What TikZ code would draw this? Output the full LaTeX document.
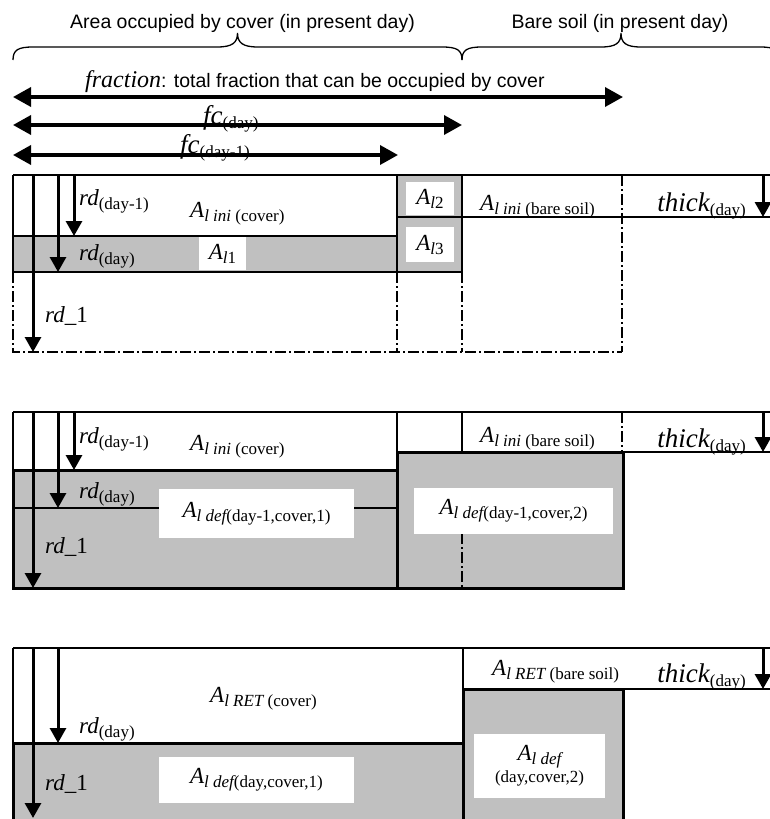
\documentclass[tikz,border=0pt]{standalone}
\usepackage{fontspec}
\setmainfont{Liberation Serif}
\newfontfamily\arl{Liberation Sans}
\usetikzlibrary{arrows.meta}
\definecolor{fillgray}{HTML}{C0C0C0}
\newcommand\Vv[1]{{\fontsize{23}{26}\selectfont\itshape #1}}
\newcommand\Vb[1]{{\fontsize{27}{30}\selectfont\itshape #1}}
\newcommand\Ss[1]{\raisebox{-4pt}{\fontsize{17}{19}\selectfont #1}}
\newcommand\Si[1]{\raisebox{-4pt}{\fontsize{17}{19}\selectfont\itshape #1}}
\begin{document}
\begin{tikzpicture}[x=1pt,y=-1pt,
  thinl/.style={line width=1.8pt},
  thickl/.style={line width=3pt},
  dashdot/.style={line width=2pt,dash pattern=on 11pt off 3pt on 2pt off 3pt},
  darr/.style={line width=3pt,-{Triangle[length=15pt,width=16pt]}},
  harr/.style={line width=3.5pt,{Triangle[length=18pt,width=19pt]}-{Triangle[length=18pt,width=19pt]}},
  lbl/.style={inner sep=0pt},
  wbox/.style={fill=white,inner sep=0pt,align=center},
  bracel/.style={line width=1.3pt},
  sanslbl/.style={inner sep=0pt,font=\arl\fontsize{19.5}{22}\selectfont}]
\clip (0,0) rectangle (770,819);
\fill[white] (0,0) rectangle (770,819);

% ---------- header ----------
\node[sanslbl,anchor=base] (hcov) at (242.5,28) {Area occupied by cover (in present day)};
\node[sanslbl,anchor=base] (hbare) at (620,28) {Bare soil (in present day)};
\draw[bracel] (13,60) .. controls (13,50) and (18,47) .. (33,47) -- (217,47)
  .. controls (232,47) and (237.5,43) .. (237.5,33)
  .. controls (237.5,43) and (243,47) .. (258,47) -- (442,47)
  .. controls (457,47) and (462,50) .. (462,60);
\draw[bracel] (462,60) .. controls (462,50) and (467,47) .. (482,47) -- (601,47)
  .. controls (616,47) and (621,43) .. (621,33)
  .. controls (621,43) and (626,47) .. (641,47) -- (760,47)
  .. controls (775,47) and (780,50) .. (780,60);

\coordinate (fa) at (13,97); \coordinate (fb) at (623,97);
\coordinate (ca) at (13,125); \coordinate (cb) at (462,125);
\coordinate (da) at (13,155); \coordinate (db) at (398,155);
\draw[harr] (fa) -- (fb);
\draw[harr] (ca) -- (cb);
\draw[harr] (da) -- (db);
\node[lbl,anchor=base west] (lfrac) at (85,87) {{\fontsize{24}{26}\selectfont\itshape fraction}{\arl\fontsize{19.5}{22}\selectfont: total fraction that can be occupied by cover}};
\node[lbl,anchor=base west] (lfc) at (203,124) {\Vb{fc}\Ss{(day)}};
\node[lbl,anchor=base west] (lfc1) at (180,153) {\Vb{fc}\Ss{(day-1)}};

% ---------- panel 1 ----------
\fill[fillgray] (13,236) rectangle (397,272);
\fill[fillgray] (397,175) rectangle (462,272);
\draw[thinl] (13,175) -- (770,175);
\draw[thinl] (13,175) -- (13,272);
\draw[thinl] (13,236) -- (397,236);
\draw[thinl] (13,272) -- (462,272);
\draw[thinl] (397,175) -- (397,272);
\draw[thinl] (462,175) -- (462,272);
\draw[thinl] (397,217) -- (770,217);
\draw[dashdot] (13,272) -- (13,352) -- (622,352);
\draw[dashdot] (622,175) -- (622,352);
\draw[dashdot] (397,272) -- (397,352);
\draw[dashdot] (462,272) -- (462,352);
\node[wbox,minimum width=47pt,minimum height=33pt] (al1) at (222.5,253.5) {\Vv{A}\Si{l}\Ss{1}};
\node[wbox,minimum width=48pt,minimum height=33pt] (al2) at (430,198.5) {\Vv{A}\Si{l}\Ss{2}};
\node[wbox,minimum width=48pt,minimum height=35pt] (al3) at (430,244.5) {\Vv{A}\Si{l}\Ss{3}};
\draw[darr] (33,175) -- (33,352);
\draw[darr] (58,175) -- (58,272);
\draw[darr] (74,175) -- (74,236);
\draw[darr] (763,175) -- (763,217);
\node[lbl,anchor=base west] (p1rd1) at (79,205) {\Vv{rd}\Ss{(day-1)}};
\node[lbl,anchor=base west] (p1rd) at (79,260) {\Vv{rd}\Ss{(day)}};
\node[lbl,anchor=base west] (p1r1) at (45,322) {\Vv{rd\_}{\fontsize{23}{26}\selectfont 1}};
\node[lbl,anchor=base west] (p1ac) at (190,217) {\Vv{A}\Si{l ini}\Ss{ (cover)}};
\node[lbl,anchor=base west] (p1ab) at (480,210) {\Vv{A}\Si{l ini}\Ss{ (bare soil)}};
\node[lbl,anchor=base east] (p1th) at (746,211) {\Vb{thick}\Ss{(day)}};

% ---------- panel 2 ----------
\fill[fillgray] (13,470) rectangle (397,588);
\fill[fillgray] (397,452) rectangle (623,588);
\draw[thinl] (13,412) -- (770,412);
\draw[thinl] (13,412) -- (13,470);
\draw[thinl] (462,412) -- (462,452);
\draw[line width=2.4pt] (397,412) -- (397,452);
\draw[thinl] (397,452) -- (770,452);
\draw[thinl] (13,508) -- (397,508);
\draw[dashdot] (622,412) -- (622,452);
\draw[dashdot] (462,533) -- (462,588);
\draw[thickl] (13,470) -- (397,470);
\draw[thickl] (13,470) -- (13,588) -- (623,588) -- (623,452) -- (397,452) -- (397,588);
\node[wbox,minimum width=195pt,minimum height=49pt] (p2d1) at (256.5,513.5) {\Vv{A}\Si{l def}\Ss{(day-1,cover,1)}};
\node[wbox,minimum width=199pt,minimum height=46pt] (p2d2) at (513.5,511) {\Vv{A}\Si{l def}\Ss{(day-1,cover,2)}};
\draw[darr] (33,412) -- (33,588);
\draw[darr] (58,412) -- (58,508);
\draw[darr] (74,412) -- (74,470);
\draw[darr] (763,412) -- (763,452);
\node[lbl,anchor=base west] (p2rd1) at (79,443) {\Vv{rd}\Ss{(day-1)}};
\node[lbl,anchor=base west] (p2rd) at (79,498) {\Vv{rd}\Ss{(day)}};
\node[lbl,anchor=base west] (p2r1) at (45,553) {\Vv{rd\_}{\fontsize{23}{26}\selectfont 1}};
\node[lbl,anchor=base west] (p2ac) at (190,450) {\Vv{A}\Si{l ini}\Ss{ (cover)}};
\node[lbl,anchor=base west] (p2ab) at (480,442) {\Vv{A}\Si{l ini}\Ss{ (bare soil)}};
\node[lbl,anchor=base east] (p2th) at (746,447) {\Vb{thick}\Ss{(day)}};

% ---------- panel 3 ----------
\fill[fillgray] (13,743) rectangle (463,825);
\fill[fillgray] (463,689) rectangle (623,825);
\draw[thinl] (13,648) -- (770,648);
\draw[thinl] (13,648) -- (13,743);
\draw[thinl] (463,648) -- (463,689);
\draw[thinl] (623,689) -- (770,689);
\draw[thickl] (13,825) -- (13,743) -- (463,743);
\draw[thickl] (463,825) -- (463,689) -- (623,689) -- (623,825);
\node[wbox,minimum width=195pt,minimum height=46pt] (p3d1) at (256.5,780) {\Vv{A}\Si{l def}\Ss{(day,cover,1)}};
\node[wbox,minimum width=131pt,minimum height=64pt] (p3d2) at (539.5,766) {\Vv{A}\Si{l def}\\[2pt]{\fontsize{17}{19}\selectfont (day,cover,2)}};
\draw[darr] (33,648) -- (33,818);
\draw[darr] (58,648) -- (58,743);
\draw[darr] (763,648) -- (763,689);
\node[lbl,anchor=base west] (p3rd) at (79,733) {\Vv{rd}\Ss{(day)}};
\node[lbl,anchor=base west] (p3r1) at (45,790) {\Vv{rd\_}{\fontsize{23}{26}\selectfont 1}};
\node[lbl,anchor=base west] (p3ac) at (210,702) {\Vv{A}\Si{l RET}\Ss{ (cover)}};
\node[lbl,anchor=base west] (p3ab) at (492,675) {\Vv{A}\Si{l RET}\Ss{ (bare soil)}};
\node[lbl,anchor=base east] (p3th) at (746,682) {\Vb{thick}\Ss{(day)}};
\end{tikzpicture}
\end{document}
